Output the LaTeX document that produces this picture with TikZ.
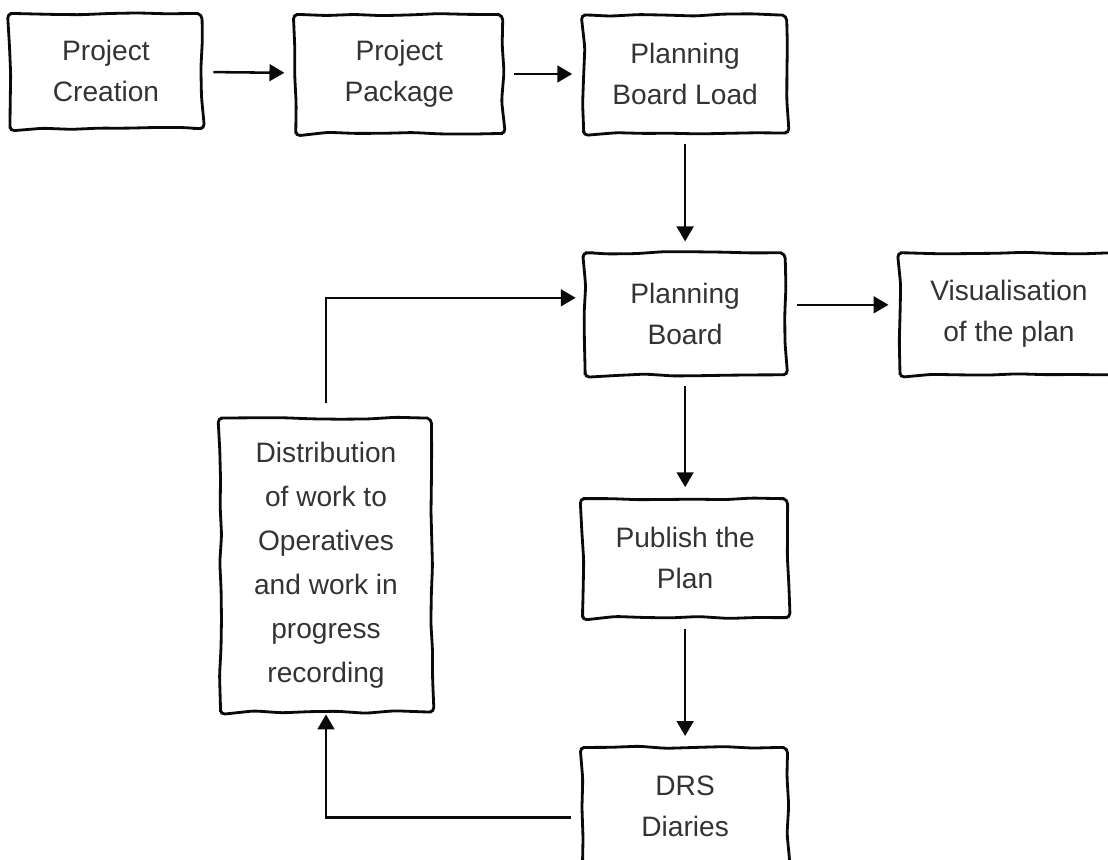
\documentclass[tikz,border=0pt]{standalone}
\usepackage{tikz}
\usepackage{xcolor}
\usepackage{fontspec}
\setmainfont{Liberation Sans}
\usetikzlibrary{shapes,arrows.meta,positioning,decorations.pathmorphing}
\definecolor{inkline}{RGB}{10, 10, 10}
\definecolor{inktext}{RGB}{51, 51, 51}
\tikzstyle{arrow} = [
    line width=1.45pt,
    -{Triangle[length=8.5pt,width=9.5pt]},
    draw=inkline,
    shorten <=0.2cm,
    shorten >=0.2cm
]
\tikzstyle{sketch} = [
    rectangle,
    draw=inkline,
    line width=1.6pt,
    decorate,
    decoration={random steps,segment length=16pt,amplitude=0.7pt,pre length=2pt,post length=2pt},
    rounded corners=2.5pt,
    align=center,
    text=inktext,
    font=\fontsize{16}{23.2}\selectfont
]

\begin{document}
\pgfmathsetseed{7}
\begin{tikzpicture}[
                node distance=1.8cm,
                every node/.style={sketch}
            ]
                \clip (0,0) rectangle (22.16,-17.2);
                \node (creation) [minimum width=3.84cm, minimum height=2.3cm] at (2.12,-1.42) {Project\\Creation};
                \node (package) [right=1.82cm of creation, yshift=-0.06cm, minimum width=4.14cm, minimum height=2.38cm] {Project\\Package};
                \node (boardload) [right=1.56cm of package, minimum width=4.06cm, minimum height=2.36cm] {Planning\\Board Load};
                \node (board) [below=2.34cm of boardload, minimum width=4cm, minimum height=2.44cm] {Planning\\Board};
                \node (visual) [right=2.24cm of board, minimum width=4.36cm, minimum height=2.44cm] {Visualisation\\of the plan};
                \node (publish) [below=2.42cm of board, minimum width=4.1cm, minimum height=2.38cm] {Publish the\\Plan};
                \node (drs) [below=2.54cm of publish, minimum width=4.1cm, minimum height=2.36cm] {DRS\\Diaries};
                \node (distrib) [minimum width=4.22cm, minimum height=5.88cm, font=\fontsize{16}{25}\selectfont] at (6.52,-11.3) {Distribution\\of work to\\Operatives\\and work in\\progress\\recording};
                \draw[arrow] (creation) -- (package);
                \draw[arrow] (package) -- (boardload);
                \draw[arrow] (boardload) -- (board);
                \draw[arrow] ([yshift=0.18cm]board.east) -- ([yshift=0.18cm]visual.west);
                \draw[arrow] (board) -- (publish);
                \draw[arrow] (publish) -- (drs);
                \draw[arrow, shorten >=0.02cm] ([yshift=-0.22cm]drs.west) -| (distrib.south);
                \draw[arrow, shorten <=0.28cm, shorten >=0.16cm] (distrib.north) |- ([yshift=0.32cm]board.west);
            \end{tikzpicture}
\end{document}
